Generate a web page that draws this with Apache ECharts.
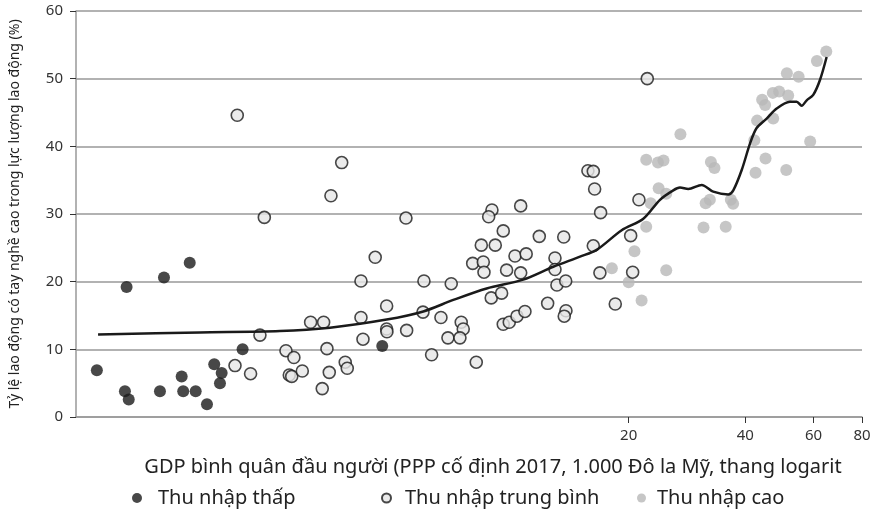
<!DOCTYPE html>
<html>
<head>
<meta charset="utf-8">
<script src="https://cdn.jsdelivr.net/npm/echarts@6/dist/echarts.min.js"></script>
<style>
  html, body { margin: 0; padding: 0; background: #fff; }
  #main { width: 882px; height: 514px; }
</style>
</head>
<body>
<div id="main"></div>
<script>
// GDP per capita (thousand USD, log) vs skilled labour share (%)
var lowIncome = [
    [0.849, 6.9], [1.013, 19.2], [1.003, 3.8], [1.026, 2.6], [1.265, 20.6],
    [1.474, 22.8], [1.235, 3.8], [1.405, 6.0], [1.418, 3.8], [1.527, 3.8],
    [1.633, 1.9], [1.705, 7.8], [1.782, 6.5], [1.764, 5.0], [2.018, 10.0],
    [4.626, 10.5]
];

var midIncome = [
    [2.237, 12.1], [1.929, 7.6], [2.116, 6.4], [2.611, 9.8], [2.737, 8.8],
    [2.663, 6.2], [2.702, 6.0], [2.877, 6.8], [1.955, 44.6], [2.296, 29.5],
    [3.636, 37.6], [3.411, 32.7], [5.326, 29.4], [8.877, 30.6], [8.706, 29.6],
    [10.53, 31.2], [9.494, 27.5], [4.437, 23.6], [4.077, 20.1], [5.927, 20.1],
    [6.970, 19.7], [4.749, 16.4], [4.077, 14.7], [3.023, 14.0], [3.266, 14.0],
    [5.893, 15.5], [6.557, 14.7], [7.396, 14.0], [7.485, 13.0], [4.749, 13.0],
    [4.757, 12.6], [5.348, 12.8], [4.126, 11.5], [6.835, 11.7], [7.340, 11.7],
    [3.331, 10.1], [6.203, 9.2], [3.713, 8.1], [3.758, 7.2], [3.377, 6.6],
    [3.239, 4.2], [8.087, 8.1], [8.333, 25.4], [9.054, 25.4], [7.918, 22.7],
    [8.432, 22.9], [8.467, 21.4], [9.685, 21.7], [10.18, 23.8], [10.88, 24.1],
    [10.53, 21.3], [11.76, 26.7], [13.60, 26.6], [12.91, 23.5], [12.91, 21.8],
    [13.06, 19.5], [13.76, 20.1], [8.840, 17.6], [9.402, 18.3], [12.36, 16.8],
    [13.78, 15.7], [13.64, 14.9], [9.494, 13.7], [9.840, 14.0], [10.30, 14.9],
    [10.80, 15.6], [22.34, 50.0], [15.70, 36.4], [16.21, 36.3], [16.34, 33.7],
    [16.93, 30.2], [21.26, 32.1], [16.21, 25.3], [20.24, 26.8], [20.48, 21.4],
    [16.86, 21.3], [18.47, 16.7]
];

var highIncome = [
    [64.7, 54.0], [61.2, 52.6], [51.2, 50.8], [54.9, 50.3], [47.1, 47.9],
    [48.9, 48.1], [51.6, 47.5], [44.2, 46.9], [45.0, 46.1], [47.2, 44.1],
    [42.9, 43.8], [42.2, 40.9], [58.8, 40.7], [27.2, 41.8], [22.2, 38.0],
    [23.8, 37.6], [24.6, 37.9], [32.6, 37.7], [33.3, 36.8], [45.1, 38.2],
    [42.5, 36.1], [51.0, 36.5], [23.9, 33.8], [25.0, 33.0], [22.8, 31.6],
    [31.6, 31.6], [32.4, 32.1], [36.7, 32.1], [37.2, 31.5], [22.2, 28.1],
    [31.2, 28.0], [35.6, 28.1], [20.7, 24.5], [18.1, 22.0], [25.0, 21.7],
    [20.0, 19.9], [21.6, 17.2]
];

var trendLine = [
    [0.855, 12.2], [1.566, 12.5], [2.519, 12.7], [3.391, 13.2], [4.749, 14.4],
    [5.904, 15.6], [7.055, 17.3], [8.602, 19.0], [10.69, 20.3], [12.78, 22.2],
    [14.98, 23.7], [16.54, 24.7], [19.19, 27.6], [21.82, 29.3], [24.09, 32.1],
    [26.07, 33.5], [27.13, 33.9], [28.50, 33.7], [30.86, 34.3], [33.06, 33.3],
    [36.15, 32.9], [37.24, 33.5], [39.15, 36.5], [41.12, 40.4], [42.78, 42.7],
    [45.41, 44.1], [48.19, 45.6], [52.15, 46.6], [54.27, 46.6], [55.90, 46.0],
    [57.60, 46.8], [59.88, 47.6], [62.32, 49.8], [64.84, 53.2]
];

var xTickValues = [20, 40, 60, 80];
var legendNames = ['Thu nhập thấp', 'Thu nhập trung bình', 'Thu nhập cao'];

var textFont = '"Noto Sans", "Open Sans", sans-serif';

function legendAt(name, left, size, gap) {
    return {
        data: [name],
        left: left,
        top: 488,
        padding: 0,
        itemWidth: size,
        itemHeight: size,
        textStyle: {
            fontSize: 20,
            color: '#222',
            fontFamily: textFont,
            padding: [0, 0, 0, gap]
        }
    };
}

var myChart = echarts.init(document.getElementById('main'));
myChart.setOption({
    animation: false,
    backgroundColor: '#ffffff',
    grid: {
        left: 76,
        right: 20,
        top: 11,
        bottom: 97
    },
    legend: [
        legendAt(legendNames[0], 132, 10, 11),
        legendAt(legendNames[1], 381, 9, 9),
        legendAt(legendNames[2], 637, 9, 6)
    ],
    xAxis: {
        type: 'log',
        logBase: 2,
        min: 0.75,
        max: 80,
        name: 'GDP bình quân đầu người (PPP cố định 2017, 1.000 Đô la Mỹ, thang logarit',
        nameLocation: 'middle',
        nameGap: 40,
        nameTextStyle: {
            fontSize: 20,
            color: '#222',
            fontFamily: textFont,
            padding: [0, 0, 0, 48]
        },
        splitLine: { show: false },
        axisLine: {
            lineStyle: { color: '#999999', width: 1.5 }
        },
        axisTick: {
            show: true,
            inside: false,
            length: 6,
            customValues: xTickValues,
            lineStyle: { color: '#333', width: 1 }
        },
        axisLabel: {
            customValues: xTickValues,
            margin: 11,
            fontSize: 15,
            color: '#333',
            fontFamily: textFont
        }
    },
    yAxis: {
        type: 'value',
        min: 0,
        max: 60,
        interval: 10,
        name: 'Tỷ lệ lao động có tay nghề cao trong lực lượng lao động (%)',
        nameLocation: 'middle',
        nameGap: 54,
        nameTextStyle: {
            fontSize: 14,
            color: '#222',
            fontFamily: textFont
        },
        splitLine: {
            show: true,
            lineStyle: { color: '#999999', width: 1.5 }
        },
        axisLine: {
            show: true,
            lineStyle: { color: '#999999', width: 1.5 }
        },
        axisTick: {
            show: true,
            length: 6,
            lineStyle: { color: '#333', width: 1 }
        },
        axisLabel: {
            margin: 13,
            fontSize: 15,
            color: '#333',
            fontFamily: textFont
        }
    },
    series: [
        {
            name: legendNames[2],
            type: 'scatter',
            data: highIncome,
            symbolSize: 12,
            itemStyle: { color: '#b8b8b8' },
            z: 2
        },
        {
            name: legendNames[1],
            type: 'scatter',
            data: midIncome,
            symbolSize: 12,
            itemStyle: {
                color: '#e6e6e6',
                borderColor: '#1a1a1a',
                borderWidth: 1.6
            },
            z: 3
        },
        {
            name: legendNames[0],
            type: 'scatter',
            data: lowIncome,
            symbolSize: 12,
            itemStyle: { color: '#1a1a1a' },
            z: 4
        },
        {
            name: 'Xu hướng',
            type: 'line',
            data: trendLine,
            showSymbol: false,
            smooth: 0.3,
            lineStyle: { color: '#1a1a1a', width: 2.5 },
            z: 5
        }
    ]
});
</script>
</body>
</html>
